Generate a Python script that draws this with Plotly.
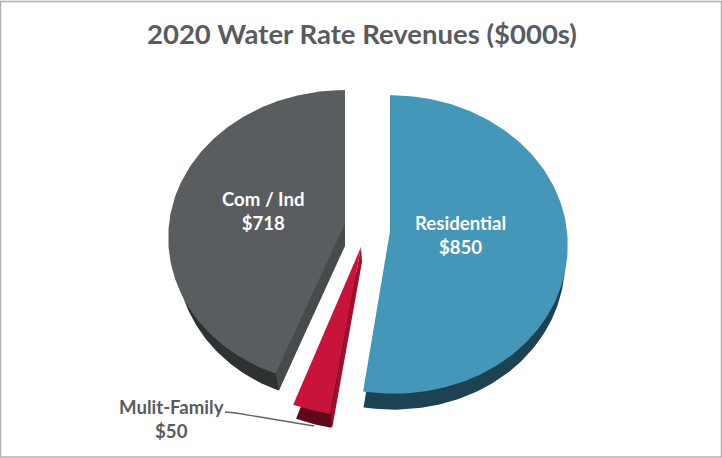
import numpy as np
import plotly.graph_objects as go

# Annual revenue by customer class, $000s
categories = ["Residential", "Mulit-Family", "Com / Ind"]
values = [850, 50, 718]
title_text = "2020 Water Rate Revenues ($000s)"

top_colors = ["#4497b8", "#c8143a", "#5a5d5f"]
rim_colors = ["#1d4352", "#5e0818", "#2f3233"]
cut_colors = [None, "#a00f2c", "#484b4d"]

# Placement of each exploded slice: centre, radii, extrusion, and how the
# cut face meets the centre of the lower disc
slice_geometry = [
    dict(ax=390, ay=231, rx=177, ry=148, depth=16, shrink=0.985, shear=4, face_dx=0, face_drop=16),
    dict(ax=361, ay=247, rx=184, ry=154, depth=14, shrink=0.96, shear=2, face_dx=1, face_drop=15),
    dict(ax=345, ay=224, rx=176, ry=146, depth=17, shrink=0.955, shear=-3, face_dx=0, face_drop=22),
]
TILT = 0.09


def rim_point(angle, g, lower=False):
    """Project a clockwise-from-north angle onto the tilted disc of a slice."""
    u, v = np.sin(angle), -np.cos(angle)
    persp = 1 / (1 - TILT * v)
    rx = g["rx"] * (g["shrink"] if lower else 1)
    ay = g["ay"] + (g["depth"] if lower else 0)
    x = g["ax"] + rx * u * persp + g["shear"] * np.maximum(v, 0) ** 2
    return x, ay + g["ry"] * v * persp


fig = go.Figure()
total = sum(values)
start = 0.0
for name, value, g, top, rim, cut in zip(
    categories, values, slice_geometry, top_colors, rim_colors, cut_colors
):
    end = start + 2 * np.pi * value / total
    angles = np.linspace(start, end, 160)

    # Extruded lower disc, visible as the dark outer rim
    lx, ly = rim_point(angles, g, lower=True)
    fig.add_trace(go.Scatter(
        x=[g["ax"], *lx, g["ax"]], y=[g["ay"] + g["depth"], *ly, g["ay"] + g["depth"]],
        mode="lines", fill="toself", fillcolor=rim, line=dict(width=0),
        name=name + " rim", hoverinfo="skip", showlegend=False,
    ))

    # Cut face on the clockwise-leading edge, where it turns toward the viewer
    if cut is not None:
        tx, ty = rim_point(start, g)
        bx, by = rim_point(start, g, lower=True)
        fig.add_trace(go.Scatter(
            x=[g["ax"], tx, bx, g["ax"] + g["face_dx"], g["ax"]],
            y=[g["ay"], ty, by, g["ay"] + g["face_drop"], g["ay"]],
            mode="lines", fill="toself", fillcolor=cut, line=dict(width=0),
            name=name + " face", hoverinfo="skip", showlegend=False,
        ))

    # Top surface
    ux, uy = rim_point(angles, g)
    fig.add_trace(go.Scatter(
        x=[g["ax"], *ux, g["ax"]], y=[g["ay"], *uy, g["ay"]],
        mode="lines", fill="toself", fillcolor=top, line=dict(width=0),
        name=name, hoverinfo="skip", showlegend=False,
    ))
    start = end

INK = "#595b5d"
label_font = dict(family="Lato", size=18.6, weight=700)
label_spots = [(460, 235, "white"), (171, 419, INK), (263, 211, "white")]
annotations = [
    dict(x=x, y=y, xref="x", yref="y", showarrow=False,
         text=f"{name}<br>${value}", align="center",
         font=dict(color=color, **label_font))
    for name, value, (x, y, color) in zip(categories, values, label_spots)
]
annotations.append(dict(
    x=362, y=33, xref="x", yref="y", showarrow=False, text=title_text,
    font=dict(family="Lato", size=27.5, weight=700, color=INK),
))

fig.update_layout(
    width=722, height=458, margin=dict(l=0, r=0, t=0, b=0),
    paper_bgcolor="white", plot_bgcolor="white", showlegend=False,
    xaxis=dict(range=[0, 722], visible=False, fixedrange=True),
    yaxis=dict(range=[458, 0], visible=False, fixedrange=True),
    annotations=annotations,
    shapes=[
        # Leader from the small slice to its label
        dict(type="path", path="M 225 412 L 236 413 L 314 426",
             line=dict(color="#5f6163", width=1.3), layer="above"),
        # Frame around the slide graphic
        dict(type="rect", x0=0.5, y0=1.5, x1=721.5, y1=457,
             line=dict(color="#b0b0b0", width=1.5), layer="below"),
    ],
)

fig.write_html("out.html", config=dict(displayModeBar=False))
